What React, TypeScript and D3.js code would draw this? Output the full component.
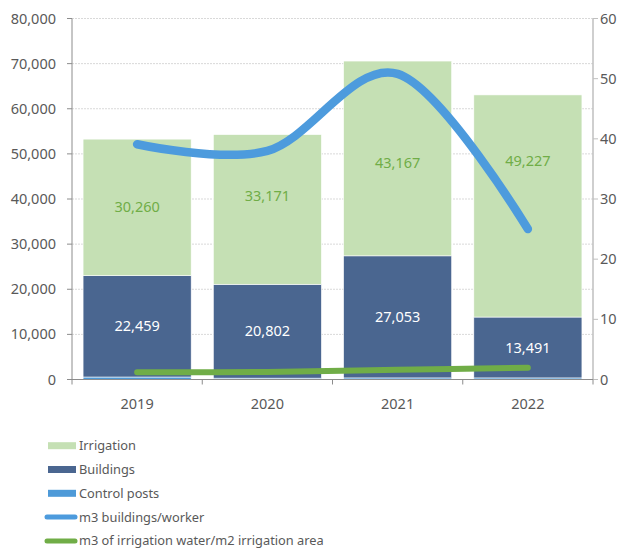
import React from "react";
import * as d3 from "d3";

const years = ["2019", "2020", "2021", "2022"];
const controlPosts = [550, 300, 350, 350];
const buildings = [22459, 20802, 27053, 13491];
const irrigation = [30260, 33171, 43167, 49227];
const m3PerWorker = [39.1, 38.0, 50.8, 25.0];
const m3PerM2 = [1.2, 1.25, 1.6, 1.95];
const leftTicks = [0, 10000, 20000, 30000, 40000, 50000, 60000, 70000, 80000];
const rightTicks = [0, 10, 20, 30, 40, 50, 60];

const C_IRR = "#C5E0B4";
const C_BLD = "#4A6690";
const C_CTL = "#4E9AD8";
const C_LINE_BLUE = "#4D9BDD";
const C_LINE_GREEN = "#70AD47";
const TXT = "#595959";
const FONT = '"Segoe UI", "Noto Sans", sans-serif';

export default function App() {
  const left = 72, right = 593, top = 18.5, bottom = 379.5;
  const x = d3.scaleBand<string>().domain(years).range([left, right]).paddingInner(0.17).paddingOuter(0.085);
  const yL = d3.scaleLinear().domain([0, 80000]).range([bottom, top]);
  const yR = d3.scaleLinear().domain([0, 60]).range([bottom, top]);
  const fmt = d3.format(",");

  const rows = years.map((yr, i) => ({ year: yr, control: controlPosts[i], buildings: buildings[i], irrigation: irrigation[i] }));
  const stack = d3.stack<any>().keys(["control", "buildings", "irrigation"])(rows);
  const colors: Record<string, string> = { control: C_CTL, buildings: C_BLD, irrigation: C_IRR };

  const cx = (yr: string) => (x(yr) as number) + x.bandwidth() / 2;
  const blueLine = d3.line<number>().x((_, i) => cx(years[i])).y((d) => yR(d)).curve(d3.curveCardinal.tension(0))(m3PerWorker) || "";
  const greenLine = d3.line<number>().x((_, i) => cx(years[i])).y((d) => yR(d)).curve(d3.curveCardinal.tension(0))(m3PerM2) || "";

  const boundaries = d3.range(years.length + 1).map((i) => left + i * ((right - left) / years.length));
  // manual label nudges (px) for irrigation labels, as in the source chart
  const irrLabelShift = [0, -14, 4, -45];

  const legend = [
    { label: "Irrigation", type: "rect", color: C_IRR },
    { label: "Buildings", type: "rect", color: C_BLD },
    { label: "Control posts", type: "rect", color: C_CTL },
    { label: "m3 buildings/worker", type: "line", color: C_LINE_BLUE },
    { label: "m3 of irrigation water/m2 irrigation area", type: "line", color: C_LINE_GREEN },
  ];

  return (
    <svg width={626} height={550} style={{ position: "absolute", left: 0, top: 0, background: "#fff" }} fontFamily={FONT}>
      {leftTicks.slice(1).map((t) => (
        <line key={"g" + t} x1={left} x2={right} y1={yL(t)} y2={yL(t)} stroke="#D9D9D9" strokeWidth={1} strokeDasharray="2,1" />
      ))}
      {stack.map((s) => (
        <g key={s.key} fill={colors[s.key]}>
          {s.map((d, i) => (
            <rect key={i} x={x(years[i])} width={x.bandwidth()} y={yL(d[1])} height={yL(d[0]) - yL(d[1])} stroke="#fff" strokeWidth={0.6} />
          ))}
        </g>
      ))}
      <line x1={left} x2={left} y1={top} y2={bottom} stroke="#8C8C8C" />
      <line x1={right} x2={right} y1={top} y2={bottom} stroke="#BFBFBF" strokeWidth={1.5} />
      <line x1={left - 5} x2={right + 5} y1={bottom} y2={bottom} stroke="#8C8C8C" />
      {leftTicks.map((t) => (
        <g key={"l" + t}>
          <line x1={left - 5} x2={left} y1={yL(t)} y2={yL(t)} stroke="#8C8C8C" />
          <text x={56} y={yL(t)} dy="0.35em" textAnchor="end" fontSize={14.5} fill={TXT}>{fmt(t)}</text>
        </g>
      ))}
      {rightTicks.map((t) => (
        <g key={"r" + t}>
          <line x1={right} x2={right + 5} y1={yR(t)} y2={yR(t)} stroke="#BFBFBF" />
          <text x={600} y={yR(t)} dy="0.35em" textAnchor="start" fontSize={14.5} fill={TXT}>{t}</text>
        </g>
      ))}
      {boundaries.map((b, i) => (
        <line key={"b" + i} x1={b} x2={b} y1={bottom} y2={bottom + 5} stroke="#8C8C8C" />
      ))}
      {years.map((yr) => (
        <text key={"x" + yr} x={cx(yr)} y={403.5} dy="0.35em" textAnchor="middle" fontSize={14.5} fill={TXT}>{yr}</text>
      ))}
      {stack[1].map((d, i) => (
        <text key={"lb" + i} x={cx(years[i])} y={(yL(d[0]) + yL(d[1])) / 2} dy="0.35em" textAnchor="middle" fontSize={14.5} fill="#fff">{fmt(buildings[i])}</text>
      ))}
      {stack[2].map((d, i) => (
        <text key={"li" + i} x={cx(years[i])} y={(yL(d[0]) + yL(d[1])) / 2 + irrLabelShift[i]} dy="0.35em" textAnchor="middle" fontSize={14.5} fill={C_LINE_GREEN}>{fmt(irrigation[i])}</text>
      ))}
      <path d={blueLine} fill="none" stroke={C_LINE_BLUE} strokeWidth={8.5} strokeLinecap="round" strokeLinejoin="round" />
      <path d={greenLine} fill="none" stroke={C_LINE_GREEN} strokeWidth={6} strokeLinecap="round" strokeLinejoin="round" />
      {legend.map((l, i) => {
        const y = 445.7 + i * 23.8;
        return (
          <g key={"lg" + i}>
            {l.type === "rect" ? (
              <rect x={48} y={y - 3.5} width={28} height={7} fill={l.color} />
            ) : (
              <line x1={47} x2={75} y1={y} y2={y} stroke={l.color} strokeWidth={5} strokeLinecap="round" />
            )}
            <text x={79} y={y} dy="0.35em" fontSize={12.8} fill={TXT}>{l.label}</text>
          </g>
        );
      })}
    </svg>
  );
}
